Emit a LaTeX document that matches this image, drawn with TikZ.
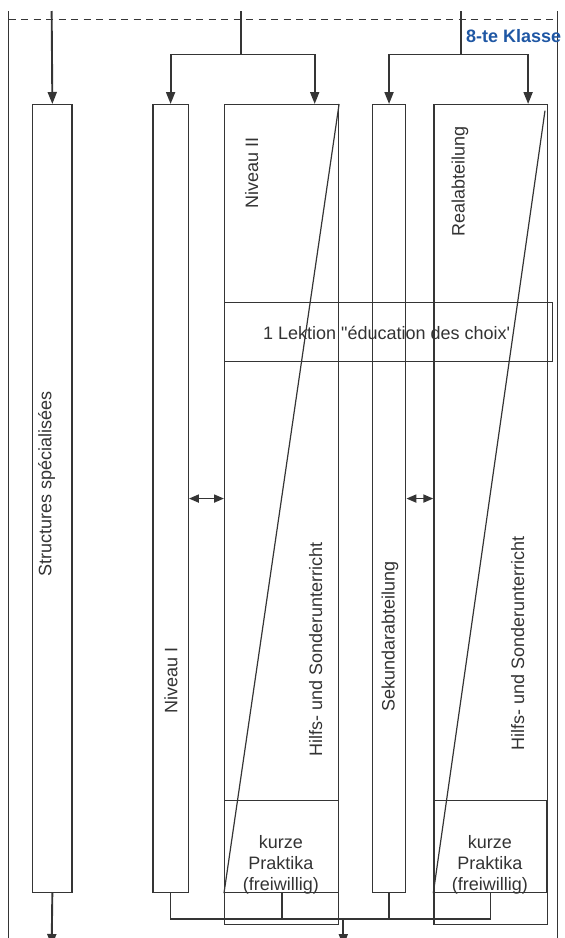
\documentclass[tikz,border=0pt]{standalone}
\usepackage{fontspec}
\newfontfamily\lsans{Liberation Sans}
\usetikzlibrary{arrows.meta}
\definecolor{ln}{HTML}{353535}
\definecolor{txt}{HTML}{333333}
\definecolor{klblue}{HTML}{1F57A4}
\begin{document}
\begin{tikzpicture}[x=1pt,y=-1pt,
  font=\lsans\fontsize{18}{21}\selectfont,
  box/.style={draw=ln, line width=1.4pt, inner sep=0pt, anchor=north west},
  diag/.style={draw=ln, line width=1.2pt},
  frame/.style={draw=ln, line width=1.4pt},
  conn/.style={draw=ln, line width=2.1pt},
  arr/.style={draw=ln, line width=1.9pt, -{Triangle[length=12pt,width=9pt]}},
  darr/.style={draw=ln, line width=1.8pt, {Triangle[length=10pt,width=8pt]}-{Triangle[length=10pt,width=8pt]}},
  lbl/.style={text=txt, inner sep=0pt}]
\useasboundingbox (0,0) rectangle (565,938);
\clip (0,0) rectangle (565,938);

% frame lines
\coordinate (lt) at (8.7,11);
\coordinate (lb) at (8.7,940);
\coordinate (rt) at (557.7,11);
\coordinate (rb) at (557.7,940);
\coordinate (dl) at (8.7,19.5);
\coordinate (dr) at (557.7,19.5);
\draw[frame] (lt) -- (lb);
\draw[frame] (rt) -- (rb);
\draw[draw=ln, line width=1.4pt, dash pattern=on 7pt off 5.5pt] (dl) -- (dr);

\node[anchor=base west, text=klblue, inner sep=0pt,
  font=\lsans\bfseries\fontsize{18}{21}\selectfont] (kl) at (466,42.3) {8-te Klasse};

% boxes
\node[box, minimum width=39.3pt, minimum height=787.7pt] (struct) at (32,104) {};
\node[box, minimum width=35.2pt, minimum height=787.7pt] (niv1) at (152.3,104) {};
\node[box, minimum width=113.7pt, minimum height=819.5pt] (niv2) at (224,104) {};
\node[box, minimum width=33.3pt, minimum height=787.7pt] (sek) at (371.7,104) {};
\node[box, minimum width=113.4pt, minimum height=819.5pt] (real) at (433.3,104) {};
\node[box, minimum width=327.7pt, minimum height=59pt] (lek) at (224,301.7) {};
\node[box, minimum width=113.7pt, minimum height=91.7pt] (prak1) at (224,800) {};
\node[box, minimum width=113pt, minimum height=91.7pt] (prak2) at (433.3,800) {};

% diagonals
\coordinate (rd) at (545,110.7);
\draw[diag] (niv2.north east) -- (prak1.south west);
\draw[diag] (rd) -- (prak2.south west);

% top connectors
\coordinate (t1) at (51.65,11);
\coordinate (t2) at (241,11);
\coordinate (j2) at (241,54.5);
\coordinate (t3) at (460.7,11);
\coordinate (j3) at (460.7,54.5);
\draw[arr] (t1) -- (struct.north);
\draw[conn] (t2) -- (j2);
\draw[arr] (j2) -| (niv1.north);
\draw[arr] (j2) -| ([xshift=-24.4pt]niv2.north east);
\draw[conn] (t3) -- (j3);
\draw[arr] (j3) -| (sek.north);
\draw[arr] (j3) -| ([xshift=-20pt]real.north east);

% double arrows
\draw[darr] (niv1.east) -- (niv1.east -| niv2.west);
\draw[darr] (sek.east) -- (sek.east -| real.west);

% bottom connectors
\coordinate (b1) at (51.65,946);
\coordinate (jb) at (343.3,919);
\coordinate (b2) at (343.3,946);
\draw[arr] (struct.south) -- (b1);
\draw[frame] (niv1.south) |- (jb);
\draw[conn] (prak1.south) |- (jb);
\draw[conn] (sek.south) |- (jb);
\draw[frame] (prak2.south) |- (jb);
\draw[arr] (jb) -- (b2);

% labels
\node[lbl, rotate=90] (tstruct) at (46.7,484) {Structures spécialisées};
\node[lbl, rotate=90] (tniv1) at (171,680) {Niveau I};
\node[lbl, rotate=90] (tniv2) at (251.7,173) {Niveau II};
\node[lbl, rotate=90] (treal) at (460,181) {Realabteilung};
\node[lbl, rotate=90] (th1) at (315.8,649.5) {Hilfs- und Sonderunterricht};
\node[lbl, rotate=90] (tsek) at (390,636.7) {Sekundarabteilung};
\node[lbl, rotate=90] (th2) at (517.8,643.3) {Hilfs- und Sonderunterricht};
\node[lbl] (tlek) at (386.7,332.7) {1 Lektion "éducation des choix'};
\node[lbl, align=center] (tp1) at (280.8,865) {kurze\\Praktika\\(freiwillig)};
\node[lbl, align=center] (tp2) at (489.8,865) {kurze\\Praktika\\(freiwillig)};
\end{tikzpicture}
\end{document}
